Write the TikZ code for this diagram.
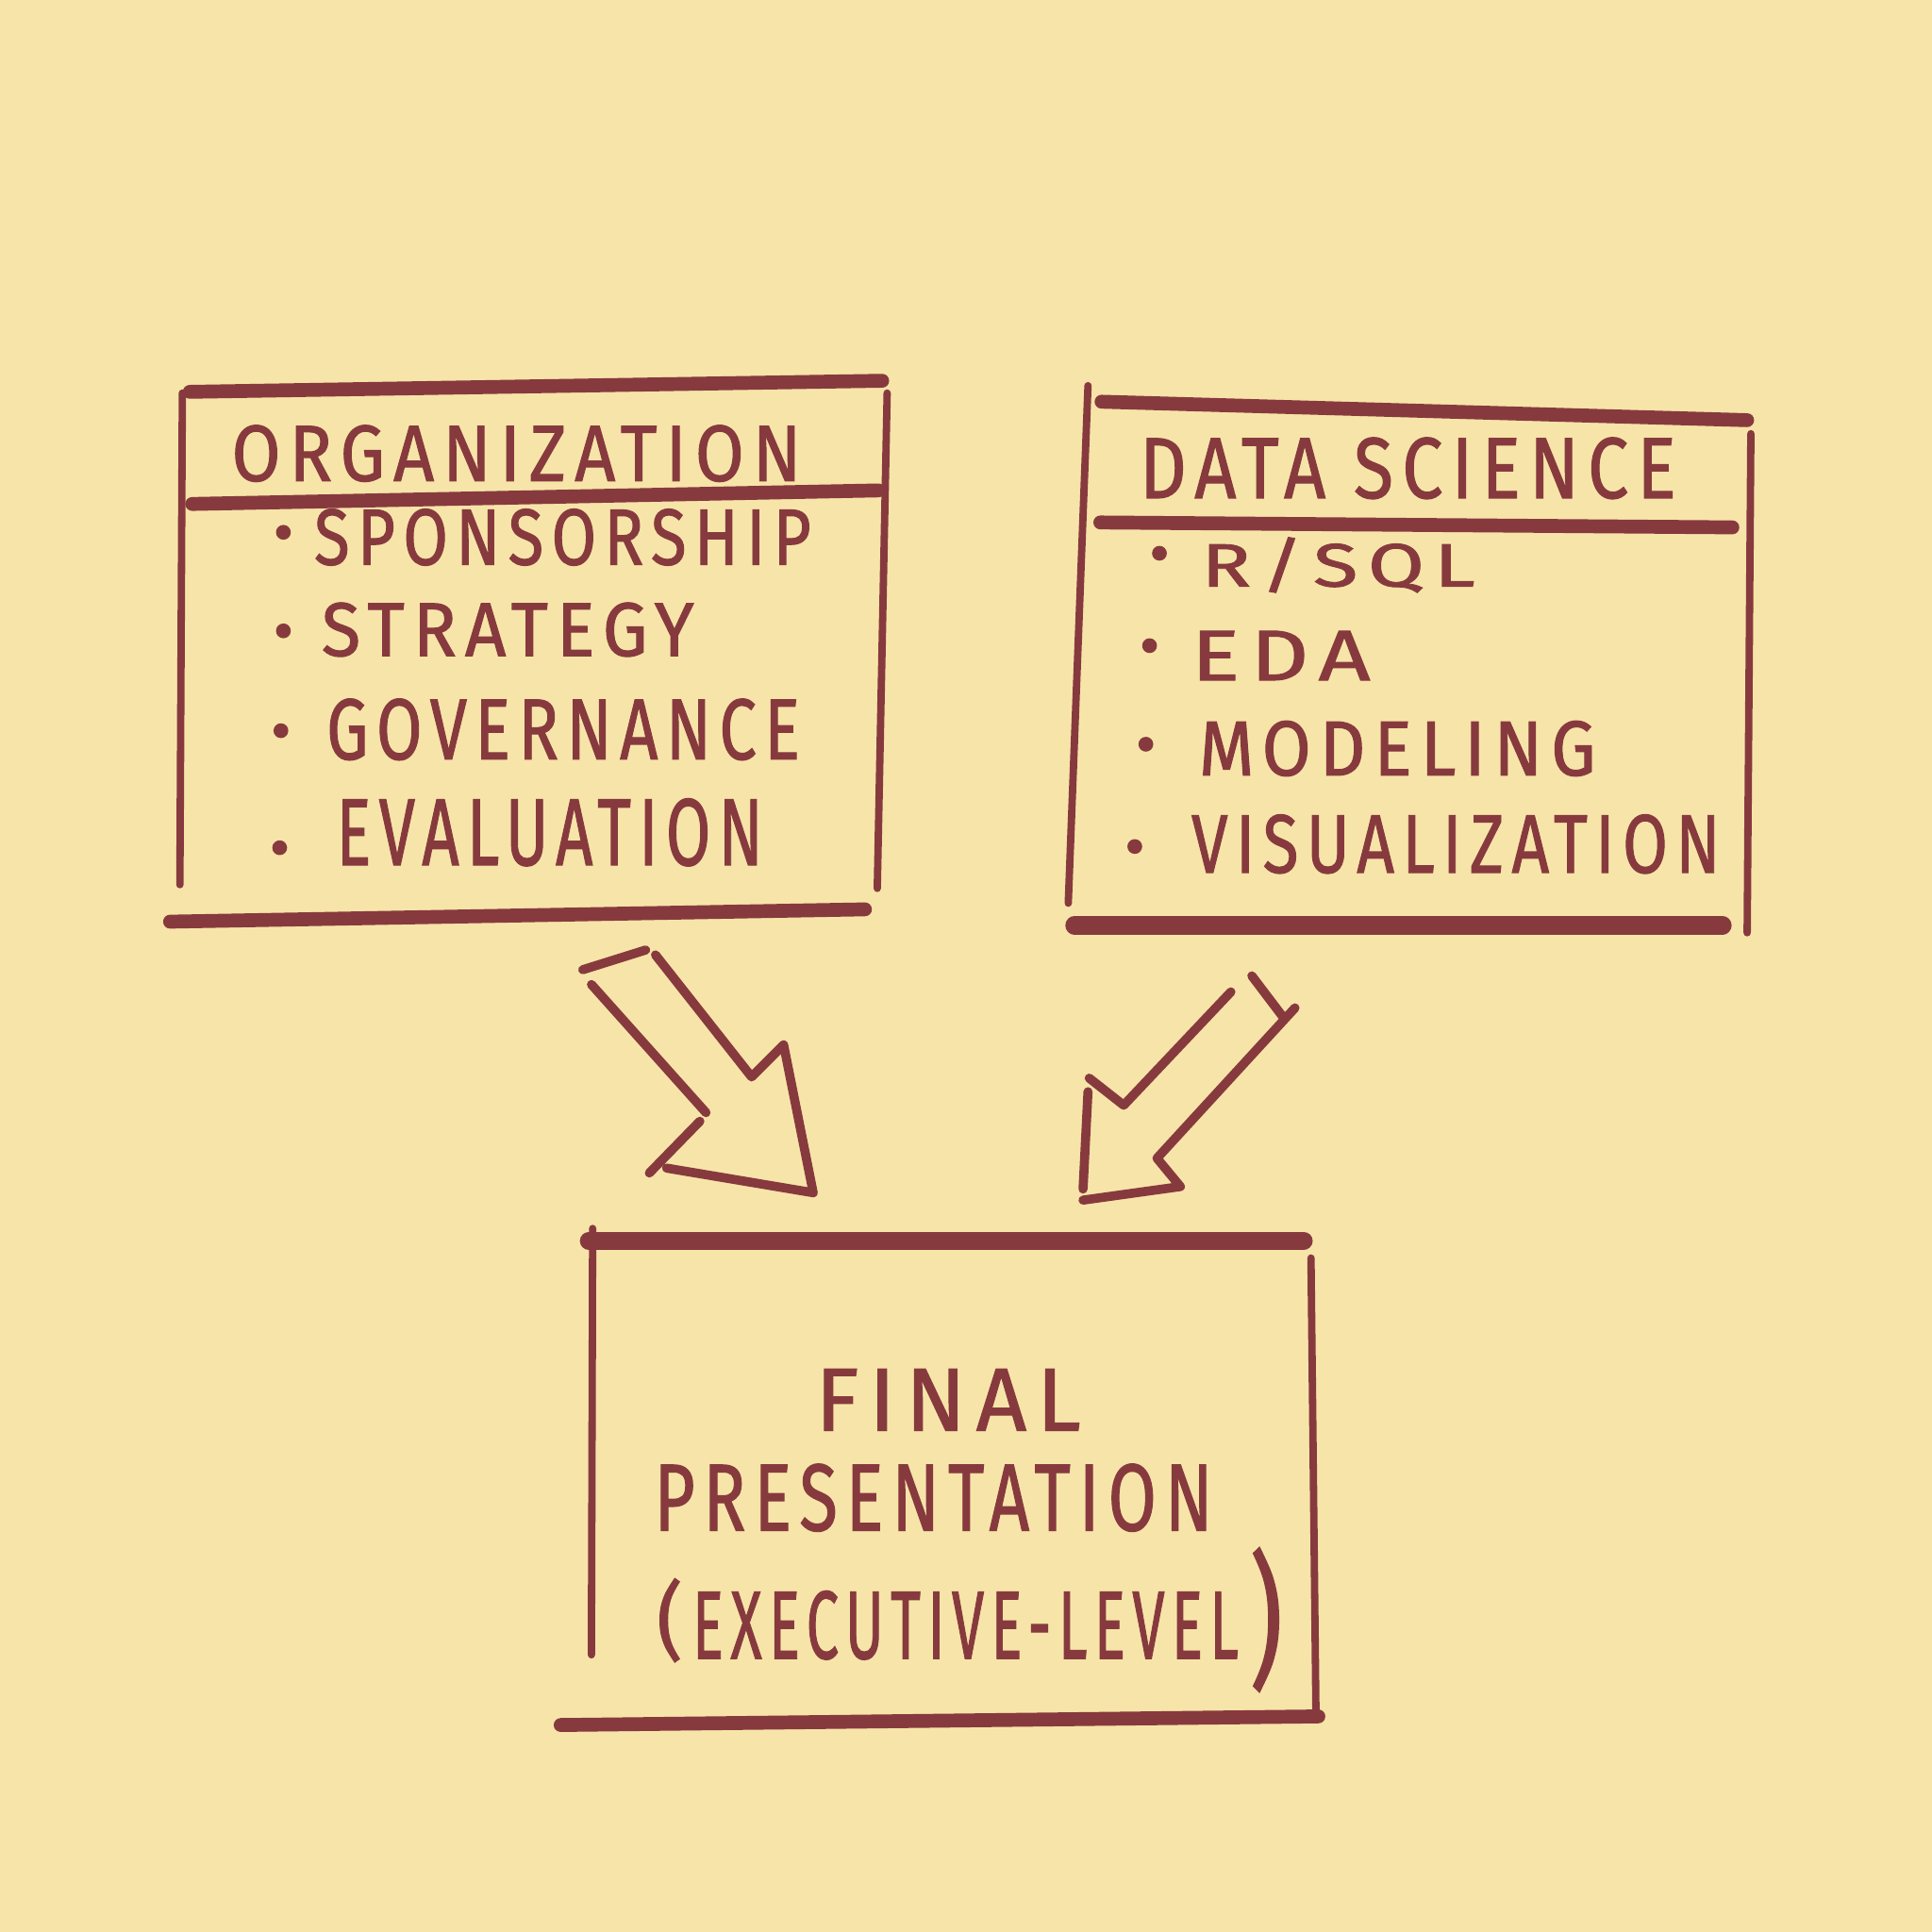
\documentclass[tikz,border=0pt]{standalone}
\usepackage{fontspec}
\usepackage{graphicx}
\newfontfamily\handfont[LetterSpace=12,FakeBold=1.3]{Fira Sans}
\definecolor{ink}{HTML}{873A3E}
\definecolor{paper}{HTML}{F7E4A9}
\newcommand\hw[3]{\resizebox*{#1cm}{#2cm}{\handfont #3}}
\tikzset{
  pen/.style={draw=ink, line width=1.7pt, line cap=round, line join=round},
  arrowpen/.style={draw=ink, line width=2.1pt, line cap=round, line join=round},
  heavypen/.style={draw=ink, line width=3.2pt, line cap=round},
  boldpen/.style={draw=ink, line width=4.2pt, line cap=round},
  hand/.style={anchor=north west, inner sep=0pt, outer sep=0pt, text=ink},
  dot/.style={circle, fill=ink, inner sep=0pt, minimum size=0.12cm}
}
\begin{document}
\begin{tikzpicture}[x=0.01cm, y=-0.01cm]
\fill[paper] (0,0) rectangle (1568,1568);
\useasboundingbox (0,0) rectangle (1568,1568);

% ---------- left box: ORGANIZATION ----------
\draw[heavypen] (154,318) -- (716,309);
\draw[pen] (148,319) -- (146,718);
\draw[pen] (720,319) -- (712,721);
\draw[heavypen] (156,409) -- (713,398);
\draw[heavypen] (138,748) -- (702,738);
\node[hand] (org) at (188,345) {\hw{4.62}{0.46}{ORGANIZATION}};
\node[dot] (b1) at (230,432) {};
\node[dot] (b2) at (230,512) {};
\node[dot] (b3) at (228,593) {};
\node[dot] (b4) at (227,688) {};
\node[hand] (spon) at (255,413) {\hw{4.03}{0.46}{SPONSORSHIP}};
\node[hand] (strat) at (261,489) {\hw{3.02}{0.44}{STRATEGY}};
\node[hand] (gov) at (265,567) {\hw{3.84}{0.50}{GOVERNANCE}};
\node[hand] (eval) at (273,648) {\hw{3.46}{0.55}{EVALUATION}};

% ---------- right box: DATA SCIENCE ----------
\draw[pen] (883,313) -- (867,733);
\draw[heavypen] (894,326) -- (1418,341);
\draw[pen] (1421,352) -- (1418,757);
\draw[heavypen] (893,424) -- (1406,428);
\draw[boldpen] (872,751) -- (1398,751);
\node[hand] (ds) at (925,355) {\hw{4.35}{0.50}{DATA SCIENCE}};
\node[dot] (c1) at (941,449) {};
\node[dot] (c2) at (933,524) {};
\node[dot] (c3) at (930,604) {};
\node[dot] (c4) at (921,687) {};
\node[hand] (rsql) at (975,436) {\hw{2.22}{0.45}{R/SQL}};
\node[hand] (eda) at (967,512) {\hw{1.45}{0.40}{EDA}};
\node[hand] (model) at (973,585) {\hw{3.22}{0.45}{MODELING}};
\node[hand] (vis) at (967,661) {\hw{4.29}{0.48}{VISUALIZATION}};

% ---------- arrows ----------
% left arrow (pointing down-right)
\draw[arrowpen] (473,787) -- (524,771);
\draw[arrowpen] (480,799) -- (573,903);
\draw[arrowpen] (532,775) -- (610,874) -- (636,848) -- (660,968) -- (541,948);
\draw[arrowpen] (568,910) -- (527,952);
% right arrow (pointing down-left)
\draw[arrowpen] (1016,792) -- (1041,825);
\draw[arrowpen] (1051,818) -- (939,940) -- (958,963) -- (879,974);
\draw[arrowpen] (999,805) -- (912,897) -- (884,875);
\draw[arrowpen] (883,886) -- (879,965);

% ---------- bottom box: FINAL PRESENTATION ----------
\draw[boldpen] (478,1007) -- (1058,1007);
\draw[pen] (481,997) -- (480,1343);
\draw[pen] (1064,1021) -- (1068,1388);
\draw[heavypen] (455,1400) -- (1070,1393);
\node[hand] (final) at (662,1111) {\hw{2.15}{0.50}{FINAL}};
\node[hand] (pres) at (531,1188) {\hw{4.53}{0.55}{PRESENTATION}};
\node[hand] (lp) at (533,1281) {\hw{0.21}{0.68}{(}};
\node[hand] (exec) at (562,1291) {\hw{4.43}{0.56}{EXECUTIVE-LEVEL}};
\node[hand] (rp) at (1014,1256) {\hw{0.27}{1.17}{)}};
\end{tikzpicture}
\end{document}
